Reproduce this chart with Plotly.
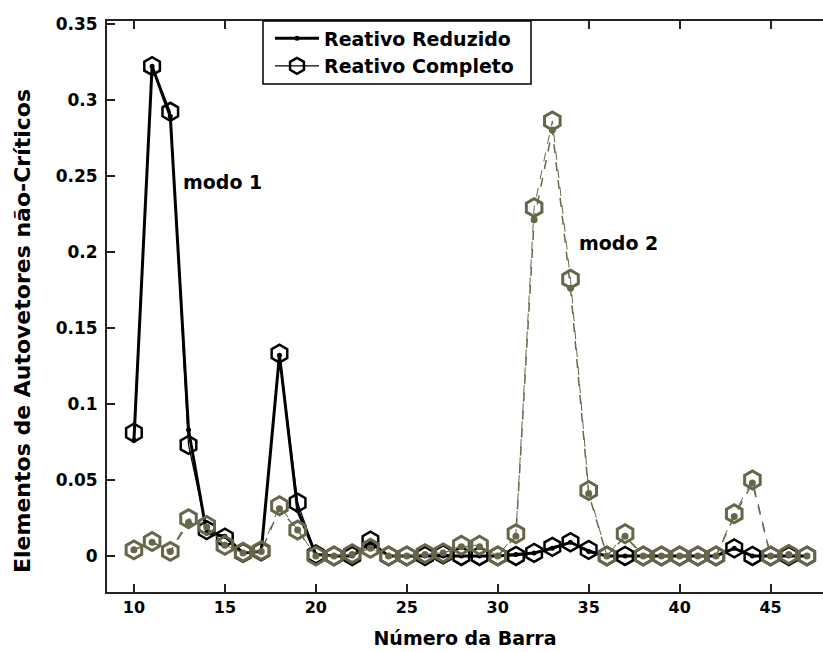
import plotly.graph_objects as go

barras = list(range(10, 48))

# Modo 1 (preto)
modo1_reduzido = [0.076, 0.322, 0.289, 0.083, 0.015, 0.013, 0.002, 0.003, 0.132, 0.030,
                  0.001, 0.000, 0.000, 0.009, 0.000, 0.000, 0.000, 0.000, 0.000, 0.000,
                  0.000, 0.001, 0.002, 0.005, 0.009, 0.003, 0.000, 0.000, 0.000, 0.000,
                  0.000, 0.000, 0.000, 0.005, 0.000, 0.000, 0.000, 0.000]
modo1_completo = [0.081, 0.322, 0.292, 0.073, 0.017, 0.012, 0.002, 0.003, 0.133, 0.035,
                  0.001, 0.000, 0.000, 0.010, 0.000, 0.000, 0.000, 0.001, 0.000, 0.000,
                  0.000, 0.000, 0.002, 0.006, 0.009, 0.004, 0.000, 0.000, 0.000, 0.000,
                  0.000, 0.000, 0.000, 0.005, 0.000, 0.000, 0.000, 0.000]

# Modo 2 (oliva)
modo2_reduzido = [0.004, 0.009, 0.003, 0.022, 0.019, 0.007, 0.002, 0.003, 0.031, 0.017,
                  0.000, 0.000, 0.001, 0.005, 0.000, 0.000, 0.001, 0.002, 0.006, 0.006,
                  0.000, 0.013, 0.221, 0.280, 0.176, 0.041, 0.000, 0.013, 0.000, 0.000,
                  0.000, 0.000, 0.000, 0.026, 0.048, 0.000, 0.001, 0.000]
modo2_completo = [0.004, 0.0095, 0.003, 0.0245, 0.020, 0.007, 0.0025, 0.0035, 0.033, 0.017,
                  0.000, 0.000, 0.0015, 0.005, 0.000, 0.000, 0.0015, 0.002, 0.007, 0.007,
                  0.000, 0.0146, 0.229, 0.286, 0.182, 0.043, 0.000, 0.0146, 0.000, 0.000,
                  0.000, 0.000, 0.000, 0.0277, 0.050, 0.000, 0.001, 0.000]

x_ticks = [10, 15, 20, 25, 30, 35, 40, 45]
y_ticks = [0, 0.05, 0.1, 0.15, 0.2, 0.25, 0.3, 0.35]
y_tick_text = ["0", "0.05", "0.1", "0.15", "0.2", "0.25", "0.3", "0.35"]

OLIVA = "#66664a"
FONT = "DejaVu Sans"

fig = go.Figure()

fig.add_trace(go.Scatter(
    x=barras, y=modo1_reduzido, mode="lines+markers", name="Reativo Reduzido",
    line=dict(color="black", width=3),
    marker=dict(symbol="circle", size=5, color="black"),
))
fig.add_trace(go.Scatter(
    x=barras, y=modo1_completo, mode="lines+markers", name="Reativo Completo",
    line=dict(color="black", width=1.2),
    marker=dict(symbol="hexagon-open", size=18, color="black", line=dict(width=2.5, color="black")),
))
fig.add_trace(go.Scatter(
    x=barras, y=modo2_reduzido, mode="lines+markers", showlegend=False,
    line=dict(color=OLIVA, width=1.5, dash="dash"),
    marker=dict(symbol="circle", size=7, color=OLIVA),
))
fig.add_trace(go.Scatter(
    x=barras, y=modo2_completo, mode="lines+markers", showlegend=False,
    line=dict(color=OLIVA, width=1, dash="dash"),
    marker=dict(symbol="hexagon-open", size=18, color=OLIVA, line=dict(width=3, color=OLIVA)),
))

fig.add_annotation(x=12.6, y=0.246, text="modo 1", showarrow=False, xanchor="left",
                   font=dict(family=FONT, size=19, color="black", weight="bold"))
fig.add_annotation(x=34.35, y=0.2056, text="modo 2", showarrow=False, xanchor="left",
                   font=dict(family=FONT, size=19, color="black", weight="bold"))

# y-axis title
fig.add_annotation(xref="paper", yref="paper", x=(22 - 107) / 716, y=(591 - 330) / 571,
                   text="Elementos de Autovetores não-Críticos", textangle=-90,
                   showarrow=False, xanchor="center", yanchor="middle",
                   font=dict(family=FONT, size=22, color="black", weight="bold"))

# legend frame
fig.add_shape(type="rect", xref="paper", yref="paper",
              x0=(263 - 107) / 716, x1=(531 - 107) / 716, y0=(591 - 83) / 571, y1=1,
              line=dict(color="black", width=1.5), fillcolor="white", layer="above")

fig.update_layout(
    width=823, height=652,
    margin=dict(l=107, r=0, t=21, b=60),
    paper_bgcolor="white", plot_bgcolor="white",
    font=dict(family=FONT, size=16, color="black", weight="bold"),
    legend=dict(
        x=(270 - 107) / 716, y=1.003, xanchor="left", yanchor="top",
        bgcolor="rgba(0,0,0,0)", borderwidth=0,
        font=dict(family=FONT, size=19, color="black", weight="bold"),
        itemwidth=44, tracegroupgap=0,
    ),
    xaxis=dict(
        range=[8.52, 47.88], tickvals=x_ticks, ticks="inside", ticklen=8, tickwidth=2,
        tickcolor="#222", showline=True, linecolor="#222", linewidth=2, mirror="ticks",
        showgrid=False, zeroline=False,
        tickfont=dict(family=FONT, size=16, weight="bold"),
        title=dict(text="Número da Barra", font=dict(family=FONT, size=19, weight="bold"), standoff=15),
    ),
    yaxis=dict(
        range=[-0.0237, 0.3517], tickvals=y_ticks, ticktext=y_tick_text, ticks="inside",
        ticklen=8, tickwidth=2, tickcolor="#222", showline=True, linecolor="#222", linewidth=2,
        showgrid=False, zeroline=False, ticklabelstandoff=4,
        tickfont=dict(family=FONT, size=17, weight="bold"),
    ),
)

fig.write_html("out.html")
